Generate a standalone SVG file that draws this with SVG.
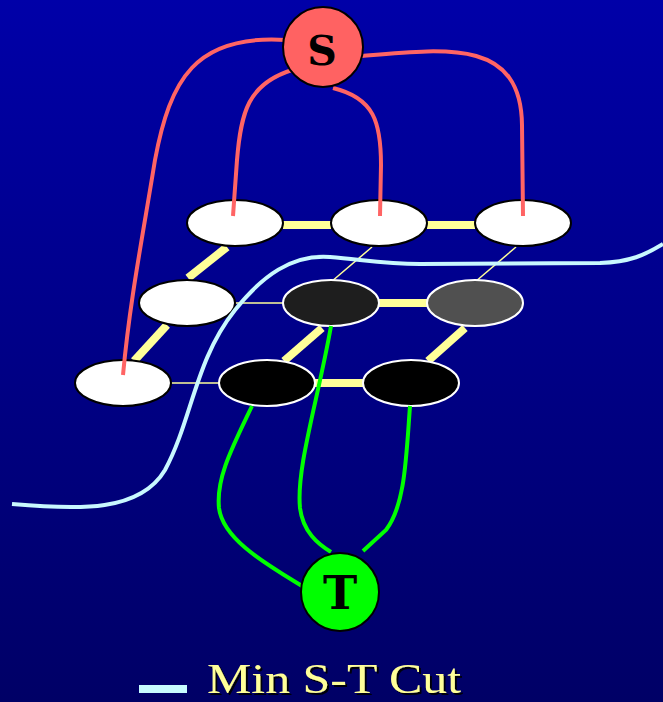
<svg xmlns="http://www.w3.org/2000/svg" width="663" height="702" viewBox="0 0 663 702">
  <defs>
    <linearGradient id="bg" x1="0" y1="0" x2="0" y2="1">
      <stop offset="0" stop-color="#0000A8"/>
      <stop offset="1" stop-color="#000066"/>
    </linearGradient>
    <filter id="shadow" x="-10%" y="-10%" width="130%" height="130%">
      <feDropShadow dx="2" dy="2" stdDeviation="0.6" flood-color="#000000" flood-opacity="0.9"/>
    </filter>
    <style>
      .thick { stroke: #FFFF99; stroke-width: 8; fill: none; }
      .thin { stroke: #FFFF99; stroke-width: 1.5; fill: none; }
      .src { stroke: #FF6464; stroke-width: 4; fill: none; }
      .snk { stroke: #00FF00; stroke-width: 4; fill: none; }
      .cut { stroke: #C8F8FF; stroke-width: 4; fill: none; }
      .light { fill: #FFFFFF; stroke: #000000; stroke-width: 2; }
      .dark { stroke: #FFFFFF; stroke-width: 2; }
      .term { stroke: #000000; stroke-width: 2; }
      .lbl { font-family: "DejaVu Serif", "Liberation Serif", serif; font-weight: bold; fill: #000000; text-anchor: middle; }
    </style>
  </defs>

  <rect x="0" y="0" width="663" height="702" fill="url(#bg)"/>

  <!-- grid edges -->
  <g id="connectors">
    <g id="grid-edges">
      <line class="thick" x1="283" y1="225" x2="331" y2="225"/>
      <line class="thick" x1="427" y1="225" x2="475" y2="225"/>
      <line class="thin" x1="234" y1="303" x2="283" y2="303"/>
      <line class="thick" x1="379" y1="303" x2="427" y2="303"/>
      <line class="thin" x1="170" y1="383" x2="219" y2="383"/>
      <line class="thick" x1="315" y1="383" x2="363" y2="383"/>
      <line class="thick" x1="227" y1="247" x2="188" y2="278"/>
      <line class="thick" x1="167" y1="325" x2="134" y2="361"/>
      <line class="thick" x1="322" y1="328" x2="284" y2="361"/>
      <line class="thick" x1="465" y1="328" x2="428" y2="361"/>
      <line class="thin" x1="372" y1="247" x2="331" y2="282"/>
      <line class="thin" x1="516" y1="247" x2="475" y2="282"/>
    </g>
  </g>

  <!-- pixel nodes -->
  <g id="n11"><ellipse class="light" cx="235" cy="223" rx="48" ry="23"/></g>
  <g id="n12"><ellipse class="light" cx="379" cy="223" rx="48" ry="23"/></g>
  <g id="n13"><ellipse class="light" cx="523" cy="223" rx="48" ry="23"/></g>
  <g id="n21"><ellipse class="light" cx="187" cy="303" rx="48" ry="23"/></g>
  <g id="n22"><ellipse class="dark" fill="#1E1E1E" cx="331" cy="303" rx="48" ry="23"/></g>
  <g id="n23"><ellipse class="dark" fill="#505050" cx="475" cy="303" rx="48" ry="23"/></g>
  <g id="n31"><ellipse class="light" cx="123" cy="383" rx="48" ry="23"/></g>
  <g id="n32"><ellipse class="dark" fill="#000000" cx="267" cy="383" rx="48" ry="23"/></g>
  <g id="n33"><ellipse class="dark" fill="#000000" cx="411" cy="383" rx="48" ry="23"/></g>

  <g id="terminal-links">
    <!-- source links -->
    <path class="src" d="M 286 40 C 195 34, 170 80, 155 160 C 142 240, 130 300, 123 375"/>
    <path class="src" d="M 292 70 C 248 84, 241 112, 237 160 L 233 216"/>
    <path class="src" d="M 333 88 C 374 98, 381 122, 381 165 L 380 216"/>
    <path class="src" d="M 362 56 C 450 48, 521 40, 522 125 L 523 216"/>
    <!-- sink links -->
    <path class="snk" d="M 252 406 C 232 448, 216 478, 219 508 C 223 540, 268 565, 302 586"/>
    <path class="snk" d="M 331 326 C 318 400, 296 468, 300 508 C 303 532, 318 544, 331 552"/>
    <path class="snk" d="M 410 406 C 406 460, 405 505, 386 530 L 363 551"/>
  </g>

  <!-- minimum cut -->
  <g id="cut">
    <path class="cut" d="M 12 504 C 80 510, 140 512, 165 470 C 192 420, 195 360, 235 310 C 262 276, 292 254, 330 257 C 365 260, 385 264, 420 264 L 600 263 C 630 262, 645 255, 663 244"/>
  </g>

  <g id="S">
    <circle class="term" fill="#FF6262" cx="323" cy="47" r="40"/>
    <text class="lbl" x="322" y="65" font-size="41">S</text>
  </g>
  <g id="T">
    <circle class="term" fill="#00FF00" cx="340" cy="592" r="39"/>
    <text class="lbl" x="340" y="609" font-size="46">T</text>
  </g>

  <g id="legend">
    <rect x="139" y="685" width="48" height="8" fill="#C8FCFF"/>
    <text x="207" y="693" font-family="Liberation Serif, 'Times New Roman', serif" font-size="42" fill="#FFFF99" textLength="254" lengthAdjust="spacingAndGlyphs" filter="url(#shadow)">Min S-T Cut</text>
  </g>
</svg>
